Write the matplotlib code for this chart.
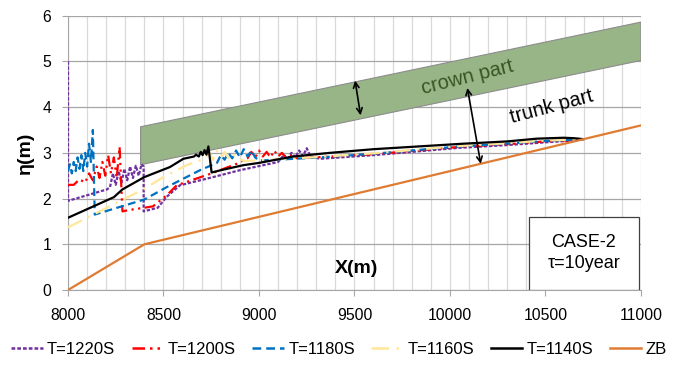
import matplotlib
matplotlib.use("Agg")
import matplotlib.pyplot as plt
from matplotlib.lines import Line2D
from matplotlib.patches import Polygon, Rectangle
from matplotlib.ticker import MultipleLocator

plt.rcParams['font.family'] = ['Liberation Sans', 'DejaVu Sans']

# water surface profiles at each time step (x in m, eta in m)
x_1220 = [8000, 8000, 8204, 8220, 8235, 8250, 8265, 8280, 8295, 8310, 8325, 8340, 8355, 8370, 8385, 8396, 8396,
          8470, 8517, 8586, 8760, 8900, 9100, 9130, 9150, 9170, 9190, 9210, 9230, 9250, 9270, 9320, 9600, 10050,
          10300, 10500, 10650, 10698]
y_1220 = [5.0, 1.95, 2.2, 2.25, 2.55, 2.3, 2.6, 2.35, 2.65, 2.4, 2.7, 2.45, 2.72, 2.5, 2.75, 2.7, 1.72,
          1.8, 2.04, 2.29, 2.47, 2.62, 2.8, 2.95, 2.86, 3.0, 2.9, 3.05, 2.93, 3.1, 2.92, 2.87, 2.95, 3.11,
          3.17, 3.23, 3.27, 3.3]

x_1200 = [8000, 8030, 8060, 8090, 8110, 8130, 8150, 8165, 8180, 8195, 8210, 8225, 8240, 8255, 8270, 8285, 8320,
          8400, 8445, 8517, 8569, 8674, 8752, 8883, 8940, 8960, 8980, 9000, 9020, 9040, 9060, 9080, 9100, 9120,
          9140, 9160, 9200, 9600, 10050, 10300, 10500, 10650, 10698]
y_1200 = [2.3, 2.3, 2.42, 2.35, 2.55, 2.4, 2.7, 2.45, 2.8, 2.5, 2.95, 2.55, 2.9, 2.45, 3.13, 1.72, 1.75,
          1.8, 1.83, 2.07, 2.29, 2.44, 2.55, 2.76, 2.88, 3.02, 2.9, 3.05, 2.92, 3.02, 2.9, 3.05, 2.92, 3.0,
          2.9, 2.95, 2.88, 2.97, 3.13, 3.19, 3.25, 3.28, 3.3]

x_1180 = [8000, 8010, 8020, 8030, 8040, 8050, 8060, 8070, 8080, 8090, 8100, 8110, 8120, 8130, 8140, 8400,
          8517, 8691, 8780, 8800, 8820, 8840, 8860, 8880, 8900, 8920, 8940, 8960, 8980, 9000, 9320, 9600,
          10050, 10300, 10500, 10650, 10698]
y_1180 = [2.6, 2.75, 2.55, 2.8, 2.6, 2.9, 2.65, 2.95, 2.6, 3.0, 2.7, 3.2, 2.8, 3.5, 1.65, 1.98,
          2.25, 2.62, 2.78, 2.95, 2.85, 3.0, 2.88, 3.05, 2.9, 3.08, 2.92, 3.05, 2.9, 2.83, 2.9, 2.98,
          3.14, 3.2, 3.26, 3.29, 3.3]

x_1160 = [8000, 8403, 8499, 8621, 8720, 8740, 8760, 8780, 8800, 8820, 8840, 8860, 8880, 8920, 9320, 9600,
          10050, 10300, 10500, 10650, 10698]
y_1160 = [1.37, 2.22, 2.47, 2.73, 2.88, 3.0, 2.85, 3.05, 2.9, 3.02, 2.88, 3.0, 2.9, 2.82, 2.91, 2.99,
          3.15, 3.21, 3.27, 3.29, 3.3]

x_1140 = [8000, 8240, 8285, 8400, 8534, 8604, 8660, 8670, 8685, 8695, 8705, 8715, 8725, 8735, 8752,
          8800, 8918, 9000, 9180, 9372, 9600, 10070, 10300, 10454, 10594, 10650, 10698]
y_1140 = [1.58, 2.03, 2.2, 2.47, 2.69, 2.87, 2.92, 2.96, 2.92, 3.02, 2.95, 3.06, 2.96, 3.14, 2.57,
          2.62, 2.73, 2.78, 2.92, 3.0, 3.08, 3.2, 3.25, 3.31, 3.33, 3.32, 3.3]

# bed elevation
x_zb = [8000, 8400, 11000]
y_zb = [0.0, 1.0, 3.6]

# vegetation crown layer (lower and upper edge)
crown_x = [8380, 11000]
crown_low = [2.74, 5.02]
crown_high = [3.57, 5.86]

series = [
    ("T=1220S", x_1220, y_1220, "#7030a0", (0, (1.5, 0.8))),
    ("T=1200S", x_1200, y_1200, "#ff0000", (0, (5, 2, 1, 2, 1, 2))),
    ("T=1180S", x_1180, y_1180, "#0070c0", (0, (3.5, 2))),
    ("T=1160S", x_1160, y_1160, "#ffe699", (0, (7, 3, 1, 3))),
    ("T=1140S", x_1140, y_1140, "black", "-"),
    ("ZB", x_zb, y_zb, "#e07b32", "-"),
]

fig = plt.figure(figsize=(6.78, 3.69), dpi=100)
ax = fig.add_axes([0.1003, 0.2141, 0.8451, 0.7434])

crown = Polygon([(crown_x[0], crown_low[0]), (crown_x[1], crown_low[1]),
                 (crown_x[1], crown_high[1]), (crown_x[0], crown_high[0])],
                closed=True, facecolor="#98b587", edgecolor="#8c8c8c", lw=0.8, zorder=1)
ax.add_patch(crown)

handles = []
for name, xs, ys, col, ls in series:
    ax.plot(xs, ys, color=col, ls=ls, lw=1.6, zorder=3)
    handles.append(Line2D([], [], color=col, ls=ls, lw=1.8, label=name))

ax.set_xlim(8000, 11000)
ax.set_ylim(0, 6)
ax.xaxis.set_major_locator(MultipleLocator(500))
ax.xaxis.set_minor_locator(MultipleLocator(100))
ax.yaxis.set_major_locator(MultipleLocator(1))
ax.grid(axis="x", which="both", color="#d9d9d9", lw=0.9, zorder=0)
ax.grid(axis="y", which="major", color="#a6a6a6", lw=0.9, zorder=0)
ax.set_axisbelow(True)
for s in ["top", "right"]:
    ax.spines[s].set_visible(False)
for s in ["left", "bottom"]:
    ax.spines[s].set_color("#a6a6a6")
ax.tick_params(axis="x", which="major", length=4, color="#a6a6a6", pad=9, labelsize=11.3)
ax.tick_params(axis="x", which="minor", length=0)
ax.tick_params(axis="y", length=4, color="#a6a6a6", pad=8, labelsize=11.3)

ax.set_ylabel("η(m)", fontsize=14, fontweight="bold", labelpad=6)
ax.text(0.504, 0.08, "X(m)", transform=ax.transAxes, ha="center", va="center",
        fontsize=14, fontweight="bold")

# annotations for the vegetation layers
ax.text(10091, 4.65, "crown part", rotation=14, ha="center", va="center",
        fontsize=14.5, color="#375623")
ax.text(10533, 4.01, "trunk part", rotation=15, ha="center", va="center",
        fontsize=14.5, color="black")
ax.annotate("", xy=(9532, 3.82), xytext=(9503, 4.58),
            arrowprops=dict(arrowstyle="<->", color="black", lw=1.2, shrinkA=0, shrinkB=0))
ax.annotate("", xy=(10161, 2.76), xytext=(10091, 4.42),
            arrowprops=dict(arrowstyle="<->", color="black", lw=1.2, shrinkA=0, shrinkB=0))

ax.add_patch(Rectangle((10414, 0.0), 575, 1.59, facecolor="white", edgecolor="#404040",
                       lw=0.9, zorder=4))
ax.text(10700, 0.8, "CASE-2\nτ=10year", ha="center", va="center", fontsize=13,
        linespacing=1.3, zorder=5)

fig.legend(handles=handles, loc="center", bbox_to_anchor=(0.5, 0.052), ncol=6,
           frameon=False, fontsize=12, handlelength=1.9, handletextpad=0.25,
           columnspacing=1.0, borderpad=0.1)

fig.savefig("out.png", dpi=100)
